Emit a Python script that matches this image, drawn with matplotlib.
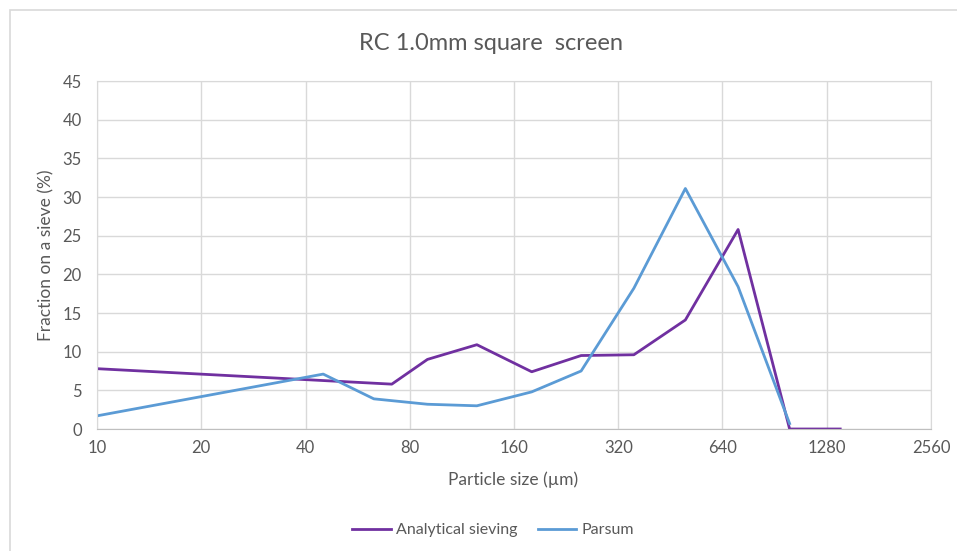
import matplotlib
matplotlib.use("Agg")
import matplotlib.pyplot as plt
from matplotlib.patches import Rectangle

plt.rcParams['font.family'] = ['Lato', 'DejaVu Sans']

# data
sieve_size = [10, 71, 90, 125, 180, 250, 355, 500, 710, 1000, 1400]
sieve_frac = [7.8, 5.8, 9.0, 10.9, 7.4, 9.5, 9.6, 14.1, 25.8, 0.0, 0.0]

parsum_size = [10, 45, 63, 90, 125, 180, 250, 355, 500, 710, 1000]
parsum_frac = [1.7, 7.1, 3.9, 3.2, 3.0, 4.8, 7.5, 18.2, 31.1, 18.4, 0.7]

x_ticks = [10, 20, 40, 80, 160, 320, 640, 1280, 2560]
y_ticks = [0, 5, 10, 15, 20, 25, 30, 35, 40, 45]

txt = '#595959'
grid = '#d9d9d9'

fig = plt.figure(figsize=(9.57, 5.51), dpi=100)
fig.patches.append(Rectangle((10 / 957, -0.01), 1.0, 1 - 10 / 551 + 0.01,
                             transform=fig.transFigure, fill=False,
                             edgecolor='#d9d9d9', linewidth=1.2))

ax = fig.add_axes([97 / 957, 1 - 429 / 551, 834 / 957, 348 / 551])
ax.plot(sieve_size, sieve_frac, color='#7030a0', linewidth=2, label='Analytical sieving')
ax.plot(parsum_size, parsum_frac, color='#5b9bd5', linewidth=2, label='Parsum')

ax.set_xscale('log', base=2)
ax.set_xlim(10, 2560)
ax.set_ylim(0, 45)
ax.set_xticks(x_ticks)
ax.set_xticklabels([str(v) for v in x_ticks])
ax.minorticks_off()
ax.set_yticks(y_ticks)

ax.grid(True, color=grid, linewidth=1)
ax.set_axisbelow(True)
for s in ax.spines.values():
    s.set_color(grid)
ax.spines['bottom'].set_color('#bfbfbf')
ax.tick_params(length=0, colors=txt, labelsize=12)
ax.tick_params(axis='x', pad=8)
ax.tick_params(axis='y', pad=11)

fig.text(491 / 957, 1 - 44 / 551, 'RC 1.0mm square  screen', ha='center', va='center',
         fontsize=17, color=txt)
fig.text(513 / 957, 1 - 480 / 551, 'Particle size (µm)', ha='center', va='center',
         fontsize=12.5, color=txt)
fig.text(46 / 957, 1 - 255 / 551, 'Fraction on a sieve (%)', ha='center', va='center',
         rotation=90, fontsize=12.5, color=txt)

leg = fig.legend(loc='center', bbox_to_anchor=(493 / 957, 1 - 530 / 551), ncol=2,
                 frameon=False, fontsize=11.5, handlelength=2.4, columnspacing=1.3,
                 handletextpad=0.3)
for t in leg.get_texts():
    t.set_color(txt)

fig.savefig('out.png', dpi=100)
